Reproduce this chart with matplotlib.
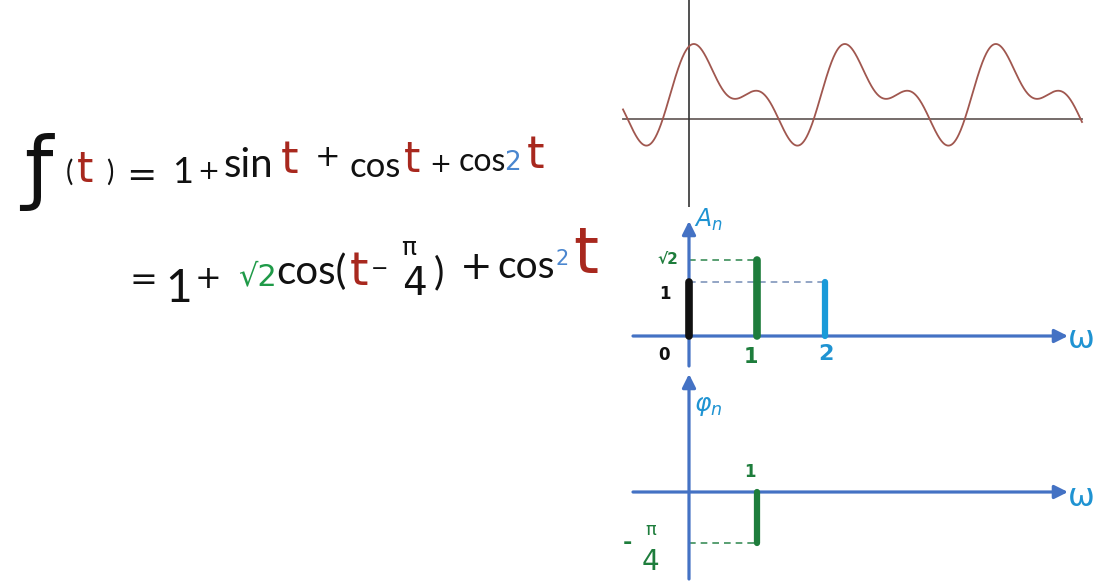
import numpy as np
import matplotlib
matplotlib.use("Agg")
import matplotlib.pyplot as plt

plt.rcParams['font.family'] = ['DejaVu Sans']
plt.rcParams['mathtext.fontset'] = 'dejavusans'

# ---- data ----
# f(t) = 1 + sin t + cos t + cos 2t = 1 + sqrt2 cos(t - pi/4) + cos 2t
freqs = [0, 1, 2]                       # omega
amps = [1.0, np.sqrt(2), 1.0]           # A_n
phases = [0.0, -np.pi / 4, 0.0]         # phi_n
amp_labels = ["1", "√2"]
omega_labels = ["0", "1", "2"]

W, H = 1119, 583
fig = plt.figure(figsize=(W / 100, H / 100), dpi=100)
fig.patch.set_facecolor("white")

HAND = ["Lato", "DejaVu Sans"]


def px_axes(x0, y0, x1, y1):
    ax = fig.add_axes([x0 / W, 1 - y1 / H, (x1 - x0) / W, (y1 - y0) / H])
    ax.set_facecolor("none")
    ax.axis("off")
    return ax


BLUE_AX = "#4472c4"
BLUE_TX = "#1f93d2"
GREEN = "#1e7d3c"
RED = "#a8281e"
BLUE2 = "#4a86cf"
BLACK = "#111111"

# ---------------- equations (text layer) ----------------
tax = px_axes(0, 0, W, H)
tax.set_xlim(0, W)
tax.set_ylim(H, 0)


def put(x, y, s, color=BLACK, size=24, family=None, va="baseline", **kw):
    tax.text(x, y, s, color=color, fontsize=size, ha="center", va=va,
             family=family if family else ["DejaVu Sans"], **kw)


# line 1
put(38, 172, "ƒ", size=58, va="center")
put(69, 181, "(", size=20, family=HAND)
put(85, 182, "t", RED, size=30)
put(110, 181, ")", size=20, family=HAND)
put(141, 186, "=", size=26)
put(183, 183, "1", size=26, family=HAND)
put(208, 179, "+", size=19)
put(248, 177, "sin", size=29, family=HAND)
put(290, 173, "t", RED, size=32)
put(328, 166, "+", size=22)
put(375, 177, "cos", size=25, family=HAND)
put(412, 172, "t", RED, size=30)
put(440, 172, "+", size=19)
put(482, 171, "cos", size=23, family=HAND)
put(513, 170, "2", BLUE2, size=19)
put(536, 168, "t", RED, size=32)

# line 2
put(143, 290, "=", size=24)
put(179, 302, "1", size=33, family=HAND)
put(208, 288, "+", size=23)
put(257, 285, "√2", "#1f9a48", size=22)
put(311, 284, "cos(", size=29, family=HAND)
put(359, 285, "t", RED, size=34)
put(380, 275, "−", size=15)
put(409, 255, "π", size=18)
put(414, 295, "4", size=28)
put(439, 284, ")", size=28, family=HAND)
put(476, 279, "+", size=28)
put(526, 278, "cos", size=28, family=HAND)
put(562, 265, "2", BLUE2, size=15)
put(586, 273, "t", RED, size=46)

# ---------------- time domain ----------------
ax1 = px_axes(600, 0, 1100, 207)
tscale = 151 / (2 * np.pi)      # px per rad
fscale = 24.2                   # px per unit
ax1.set_xlim((600 - 689) / tscale, (1100 - 689) / tscale)
ax1.set_ylim((119 - 207) / fscale, (119 - 0) / fscale)
t = np.linspace((623 - 689) / tscale, (1082 - 689) / tscale, 2000)
f = np.zeros_like(t)
for w, a, p in zip(freqs, amps, phases):
    f += a * np.cos(w * t + p)
ax1.plot([t[0], t[-1]], [0, 0], color="#6a605e", lw=1.3)
ax1.axvline(0, color="#333333", lw=1.2)
ax1.plot(t, f, color="#a0574f", lw=1.3)

# ---------------- amplitude spectrum ----------------
wscale = 68
ascale = 54
ax2 = px_axes(600, 205, 1100, 376)
ax2.set_xlim((600 - 689) / wscale, (1100 - 689) / wscale)
ax2.set_ylim((336 - 376) / ascale, (336 - 205) / ascale)
arrow = dict(arrowstyle="-|>", color=BLUE_AX, lw=2.3, mutation_scale=20,
             shrinkA=0, shrinkB=0)
ax2.annotate("", xy=((1068 - 689) / wscale, 0), xytext=((633 - 689) / wscale, 0),
             arrowprops=arrow)
ax2.annotate("", xy=(0, (336 - 221) / ascale), xytext=(0, (336 - 366) / ascale),
             arrowprops=arrow)
# dashed guides
ax2.plot([0, freqs[1]], [amps[1], amps[1]], ls=(0, (4, 3)), color="#3c8f5a", lw=1.2)
ax2.plot([0, freqs[2]], [amps[2], amps[2]], ls=(0, (4, 3)), color="#8096bb", lw=1.2)
bar_colors = [BLACK, GREEN, "#1a9ad9"]
bar_w = [5.5, 5.5, 4.5]
for w, a, c, lw in zip(freqs, amps, bar_colors, bar_w):
    ax2.plot([w, w], [0, a], color=c, lw=lw, solid_capstyle="round", zorder=3)
ax2.text((694 - 689) / wscale, (336 - 220) / ascale, r"$A_n$", color=BLUE_TX,
         fontsize=17, ha="left", va="center")
ax2.text(-0.16, amps[1], amp_labels[1], color=GREEN, fontsize=11, ha="right",
         va="center", fontweight="bold")
ax2.text((665 - 689) / wscale, (336 - 294) / ascale, amp_labels[0], color=BLACK,
         fontsize=12, ha="center", va="center", fontweight="bold")
ax2.text((664 - 689) / wscale, (336 - 355) / ascale, omega_labels[0], color=BLACK,
         fontsize=12, ha="center", va="center", fontweight="bold")
ax2.text((751 - 689) / wscale, (336 - 357) / ascale, omega_labels[1], color=GREEN,
         fontsize=15, ha="center", va="center", fontweight="bold")
ax2.text((826 - 689) / wscale, (336 - 354) / ascale, omega_labels[2], color=BLUE_TX,
         fontsize=16, ha="center", va="center", fontweight="bold")
ax2.text((1068 - 689) / wscale, (336 - 340) / ascale, "ω", color=BLUE_TX,
         fontsize=23, ha="left", va="center")

# ---------------- phase spectrum ----------------
pscale = 65
ax3 = px_axes(600, 366, 1100, 583)
ax3.set_xlim((600 - 689) / wscale, (1100 - 689) / wscale)
ax3.set_ylim((492 - 583) / pscale, (492 - 366) / pscale)
ax3.annotate("", xy=((1068 - 689) / wscale, 0), xytext=((633 - 689) / wscale, 0),
             arrowprops=arrow)
ax3.annotate("", xy=(0, (492 - 374) / pscale), xytext=(0, (492 - 579) / pscale),
             arrowprops=arrow)
ax3.plot([0, freqs[1]], [phases[1], phases[1]], ls=(0, (4, 3)), color="#3c8f5a",
         lw=1.2)
ax3.plot([freqs[1], freqs[1]], [0, phases[1]], color=GREEN, lw=4.5,
         solid_capstyle="round", zorder=3)
ax3.text((694 - 689) / wscale, (492 - 406) / pscale, r"$\varphi_n$", color=BLUE_TX,
         fontsize=18, ha="left", va="center")
ax3.text((750 - 689) / wscale, (492 - 472) / pscale, "1", color=GREEN, fontsize=12,
         ha="center", va="center", fontweight="bold")
ax3.text((627 - 689) / wscale, phases[1], "-", color=GREEN, fontsize=16,
         ha="center", va="center", fontweight="bold")
ax3.text((651 - 689) / wscale, (492 - 530) / pscale, "π", color=GREEN, fontsize=13,
         ha="center", va="center")
ax3.text((650 - 689) / wscale, (492 - 562) / pscale, "4", color=GREEN, fontsize=20,
         ha="center", va="center")
ax3.text((1068 - 689) / wscale, (492 - 497) / pscale, "ω", color=BLUE_TX,
         fontsize=23, ha="left", va="center")

fig.savefig("out.png", dpi=100, facecolor="white")
